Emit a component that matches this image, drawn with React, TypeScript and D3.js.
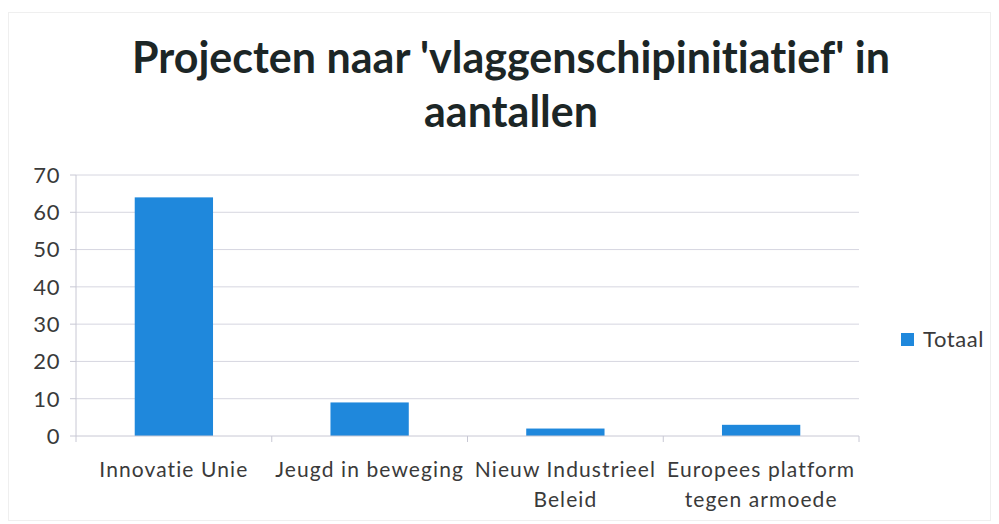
import React from "react";
import * as d3 from "d3";

const categories: string[][] = [
  ["Innovatie Unie"],
  ["Jeugd in beweging"],
  ["Nieuw Industrieel", "Beleid"],
  ["Europees platform", "tegen armoede"],
];
const categoryKeys = ["Innovatie Unie", "Jeugd in beweging", "Nieuw Industrieel Beleid", "Europees platform tegen armoede"];
const totaal = [64, 9, 2, 3];
const yTicks = [0, 10, 20, 30, 40, 50, 60, 70];
const titleLines = ["Projecten naar 'vlaggenschipinitiatief' in", "aantallen"];
const seriesName = "Totaal";

const W = 999;
const H = 524;
const FONT = "Lato, 'Open Sans', sans-serif";

export default function App() {
  const x = d3.scaleBand<string>().domain(categoryKeys).range([76, 859]).paddingInner(0.6).paddingOuter(0.3);
  const y = d3.scaleLinear().domain([0, 70]).range([436, 175]);
  const step = x.step();
  const boundaries = d3.range(categoryKeys.length + 1).map((i) => 76 + i * step);

  return (
    <svg
      width={W}
      height={H}
      style={{ position: "fixed", left: 0, top: 0, background: "#fff", fontVariantLigatures: "none" }}
      fontFamily={FONT}
    >
      <rect x={8.5} y={12.5} width={982} height={508} fill="none" stroke="#efefef" strokeWidth={1} />
      {titleLines.map((t, i) => (
        <text key={i} x={511} y={73 + i * 54} textAnchor="middle" fontSize={43} fontWeight={700} fill="#1c2626">
          {t}
        </text>
      ))}
      {yTicks.map((v) => (
        <g key={v}>
          {v > 0 && <line x1={76} x2={859} y1={y(v)} y2={y(v)} stroke="#d6d6e0" strokeWidth={1} />}
          <line x1={70} x2={76} y1={y(v)} y2={y(v)} stroke="#c8c8d4" strokeWidth={1} />
          <text x={60} y={y(v)} dy="0.36em" textAnchor="end" fontSize={22} letterSpacing={0.6} fill="#3a3a3a">
            {v}
          </text>
        </g>
      ))}
      <line x1={76} x2={76} y1={175} y2={436} stroke="#c8c8d4" strokeWidth={1} />
      {totaal.map((v, i) => (
        <rect key={i} x={x(categoryKeys[i])} y={y(v)} width={x.bandwidth()} height={y(0) - y(v)} fill="#1f88dc" />
      ))}
      <line x1={76} x2={859} y1={436} y2={436} stroke="#c8c8d4" strokeWidth={1} />
      {boundaries.map((b, i) => (
        <line key={i} x1={b} x2={b} y1={436} y2={442} stroke="#c8c8d4" strokeWidth={1} />
      ))}
      {categories.map((lines, i) => (
        <text key={i} textAnchor="middle" fontSize={21} letterSpacing={1.1} fill="#3a3a3a">
          {lines.map((l, j) => (
            <tspan key={j} x={(x(categoryKeys[i]) as number) + x.bandwidth() / 2} y={477 + j * 30}>
              {l}
            </tspan>
          ))}
        </text>
      ))}
      <rect x={901} y={333} width={13} height={13} fill="#1f88dc" />
      <text x={923} y={347} fontSize={22} letterSpacing={0.6} fill="#3a3a3a">
        {seriesName}
      </text>
    </svg>
  );
}
